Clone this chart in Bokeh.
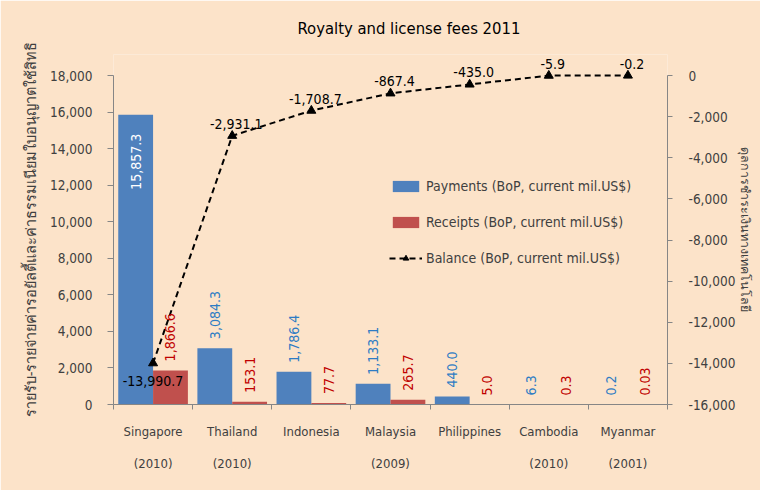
import numpy as np
from bokeh.plotting import figure
from bokeh.models import (Range1d, LinearAxis, FixedTicker, SingleIntervalTicker,
                          NumeralTickFormatter, ColumnDataSource, Legend, LegendItem, LabelSet)
from bokeh.embed import file_html
from bokeh.resources import INLINE
from bokeh.core.properties import value

# ---------------- data ----------------
countries = ["Singapore", "Thailand", "Indonesia", "Malaysia", "Philippines", "Cambodia", "Myanmar"]
years = ["(2010)", "(2010)", "", "(2009)", "", "(2010)", "(2001)"]
payments = [15857.3, 3084.3, 1786.4, 1133.1, 440.0, 6.3, 0.2]
receipts = [1866.6, 153.1, 77.7, 265.7, 5.0, 0.3, 0.03]
balance = [-13990.7, -2931.1, -1708.7, -867.4, -435.0, -5.9, -0.2]
payment_labels = ["15,857.3", "3,084.3", "1,786.4", "1,133.1", "440.0", "6.3", "0.2"]
receipt_labels = ["1,866.6", "153.1", "77.7", "265.7", "5.0", "0.3", "0.03"]
balance_labels = ["-13,990.7", "-2,931.1", "-1,708.7", "-867.4", "-435.0", "-5.9", "-0.2"]
left_range = (0, 18000)
right_range = (-16000, 0)

title_text = "Royalty and license fees 2011"
left_title = "รายรับ-รายจ่ายค่ารอยัลตี้และค่าธรรมเนียมใบอนุญาตใช้สิทธิ"
right_title = "ดุลการชำระเงินทางเทคโนโลยี"
legend_names = ["Payments (BoP, current mil.US$)",
                "Receipts (BoP, current mil.US$)",
                "Balance (BoP, current mil.US$)"]

# ---------------- style / layout ----------------
FONT = "DejaVu Sans Condensed"
BG = "#FCE3C9"
BLUE = "#4F81BD"
RED = "#C0504D"
BLUE_TXT = "#2E7CC4"
RED_TXT = "#C00000"
AXIS = "#868686"
TXT = "#404040"
W, H = 760, 490
FRAME_LEFT, FRAME_RIGHT = 113, 667
AXES_TOP, AXES_BOTTOM = 75, 404      # where the value axes run
FRAME_TOP = 54                       # frame extends higher so top labels are not clipped

axes_px = AXES_BOTTOM - AXES_TOP
extra_px = AXES_TOP - FRAME_TOP
l_span = left_range[1] - left_range[0]
r_span = right_range[1] - right_range[0]

n = len(countries)
xc = np.arange(n) + 0.5
x_pay = xc - 0.22
x_rec = xc + 0.22

p = figure(width=W, height=H, x_range=Range1d(0, n),
           y_range=Range1d(left_range[0], left_range[1] + l_span * extra_px / axes_px),
           output_backend="svg", toolbar_location=None, x_axis_location=None,
           min_border_left=FRAME_LEFT, min_border_right=W - FRAME_RIGHT,
           min_border_top=FRAME_TOP, min_border_bottom=H - AXES_BOTTOM,
           background_fill_color=BG, border_fill_color=BG, outline_line_color=None)
p.extra_y_ranges = {"bal": Range1d(right_range[0], right_range[1] + r_span * extra_px / axes_px)}
p.grid.visible = False

# title (blank second line lifts it a little higher above the frame)
p.title.text = title_text + "\n "
p.title.text_line_height = 0.62
p.title.align = "left"
p.title.offset = 184
p.title.text_font = FONT
p.title.text_font_size = "16.5px"
p.title.text_font_style = "normal"
p.title.text_color = "#000000"

# left axis
ya = p.yaxis[0]
ya.bounds = left_range
ya.ticker = SingleIntervalTicker(interval=2000, num_minor_ticks=0)
ya.formatter = NumeralTickFormatter(format="0,0")
ya.axis_line_color = AXIS
ya.major_tick_line_color = AXIS
ya.major_tick_out = 6
ya.major_tick_in = 0
ya.minor_tick_line_color = None
ya.major_label_text_font = FONT
ya.major_label_text_font_size = "13.5px"
ya.major_label_text_color = TXT
ya.major_label_standoff = 15
ya.axis_label = left_title
ya.axis_label_text_font = FONT
ya.axis_label_text_font_size = "14.5px"
ya.axis_label_text_font_style = "normal"
ya.axis_label_text_color = TXT
ya.axis_label_standoff = 8

# right axis
ra = LinearAxis(y_range_name="bal", bounds=right_range,
                ticker=SingleIntervalTicker(interval=2000, num_minor_ticks=0),
                formatter=NumeralTickFormatter(format="0,0"))
ra.axis_line_color = AXIS
ra.major_tick_line_color = AXIS
ra.major_tick_out = 5
ra.major_tick_in = 0
ra.minor_tick_line_color = None
ra.major_label_text_font = FONT
ra.major_label_text_font_size = "13.5px"
ra.major_label_text_color = TXT
ra.major_label_standoff = 16
ra.axis_label = right_title
ra.axis_label_text_font = FONT
ra.axis_label_text_font_size = "12.5px"
ra.axis_label_text_font_style = "normal"
ra.axis_label_text_color = TXT
ra.axis_label_standoff = 0
p.add_layout(ra, "right")

# category axis (names) with boundary ticks
ca = LinearAxis(ticker=FixedTicker(ticks=list(xc), minor_ticks=list(range(n + 1))),
                major_label_overrides={float(x): c for x, c in zip(xc, countries)})
ca.axis_line_color = AXIS
ca.major_tick_line_color = None
ca.major_tick_out = 0
ca.major_tick_in = 0
ca.minor_tick_line_color = AXIS
ca.minor_tick_out = 5
ca.minor_tick_in = 0
ca.major_label_text_font = FONT
ca.major_label_text_font_size = "13px"
ca.major_label_text_color = TXT
ca.major_label_standoff = 14
p.add_layout(ca, "below")

# year axis
yr = LinearAxis(ticker=FixedTicker(ticks=list(xc), minor_ticks=[]),
                major_label_overrides={float(x): (y if y else " ") for x, y in zip(xc, years)})
yr.axis_line_color = None
yr.major_tick_line_color = None
yr.minor_tick_line_color = None
yr.major_tick_out = 0
yr.major_tick_in = 0
yr.major_label_text_font = FONT
yr.major_label_text_font_size = "13px"
yr.major_label_text_color = TXT
yr.major_label_standoff = 14
p.add_layout(yr, "below")

# bars
src = ColumnDataSource(dict(x_pay=x_pay, x_rec=x_rec, xc=xc, payments=payments,
                            receipts=receipts, balance=balance,
                            pl=payment_labels, rl=receipt_labels, bl=balance_labels))
r_pay = p.vbar(x="x_pay", top="payments", width=0.44, source=src,
               fill_color=BLUE, line_color=None)
r_rec = p.vbar(x="x_rec", top="receipts", width=0.44, source=src,
               fill_color=RED, line_color=None)

# balance line
r_line = p.line(x="xc", y="balance", source=src, y_range_name="bal",
                line_color="black", line_width=2, line_dash="6 4")
r_pts = p.scatter(x="xc", y="balance", source=src, y_range_name="bal",
                  marker="triangle", size=9, fill_color="black", line_color="black")

# payment labels
inside = [v > 10000 for v in payments]
src_pin = ColumnDataSource(dict(x=[x for x, f in zip(x_pay, inside) if f],
                                y=[v for v, f in zip(payments, inside) if f],
                                t=[t for t, f in zip(payment_labels, inside) if f]))
src_pout = ColumnDataSource(dict(x=[x for x, f in zip(x_pay, inside) if not f],
                                 y=[v for v, f in zip(payments, inside) if not f],
                                 t=[t for t, f in zip(payment_labels, inside) if not f]))
p.text(x="x", y="y", text="t", source=src_pin, angle=np.pi / 2, text_align="right",
       text_baseline="middle", y_offset=19, text_color="white",
       text_font=value(FONT), text_font_size="14px")
p.text(x="x", y="y", text="t", source=src_pout, angle=np.pi / 2, text_align="left",
       text_baseline="middle", y_offset=-9, text_color=BLUE_TXT,
       text_font=value(FONT), text_font_size="14px")
p.text(x="x_rec", y="receipts", text="rl", source=src, angle=np.pi / 2, text_align="left",
       text_baseline="middle", y_offset=-9, text_color=RED_TXT,
       text_font=value(FONT), text_font_size="14px")

# balance labels
below = [v < -10000 for v in balance]
src_bb = ColumnDataSource(dict(x=[x for x, f in zip(xc, below) if f],
                               y=[v for v, f in zip(balance, below) if f],
                               t=[t for t, f in zip(balance_labels, below) if f]))
src_ba = ColumnDataSource(dict(x=[x for x, f in zip(xc, below) if not f],
                               y=[v for v, f in zip(balance, below) if not f],
                               t=[t for t, f in zip(balance_labels, below) if not f]))
p.add_layout(LabelSet(x="x", y="y", text="t", source=src_bb, y_range_name="bal",
                      text_align="center", text_baseline="top", y_offset=-13,
                      text_color="black", text_font=value(FONT), text_font_size="14px"))
p.add_layout(LabelSet(x="x", y="y", text="t", source=src_ba, y_range_name="bal",
                      text_align="center", text_baseline="bottom", y_offset=7, x_offset=4,
                      text_color="black", text_font=value(FONT), text_font_size="14px"))

# legend
legend = Legend(items=[LegendItem(label=legend_names[0], renderers=[r_pay]),
                       LegendItem(label=legend_names[1], renderers=[r_rec]),
                       LegendItem(label=legend_names[2], renderers=[r_line, r_pts])],
                location=(276, 138), border_line_color=None, background_fill_alpha=0,
                label_text_font=FONT, label_text_font_size="14px", label_text_color=TXT,
                glyph_width=33, glyph_height=14, spacing=20, padding=0, margin=0,
                label_standoff=4)
p.add_layout(legend)

open("out.html", "w").write(file_html(p, INLINE))
